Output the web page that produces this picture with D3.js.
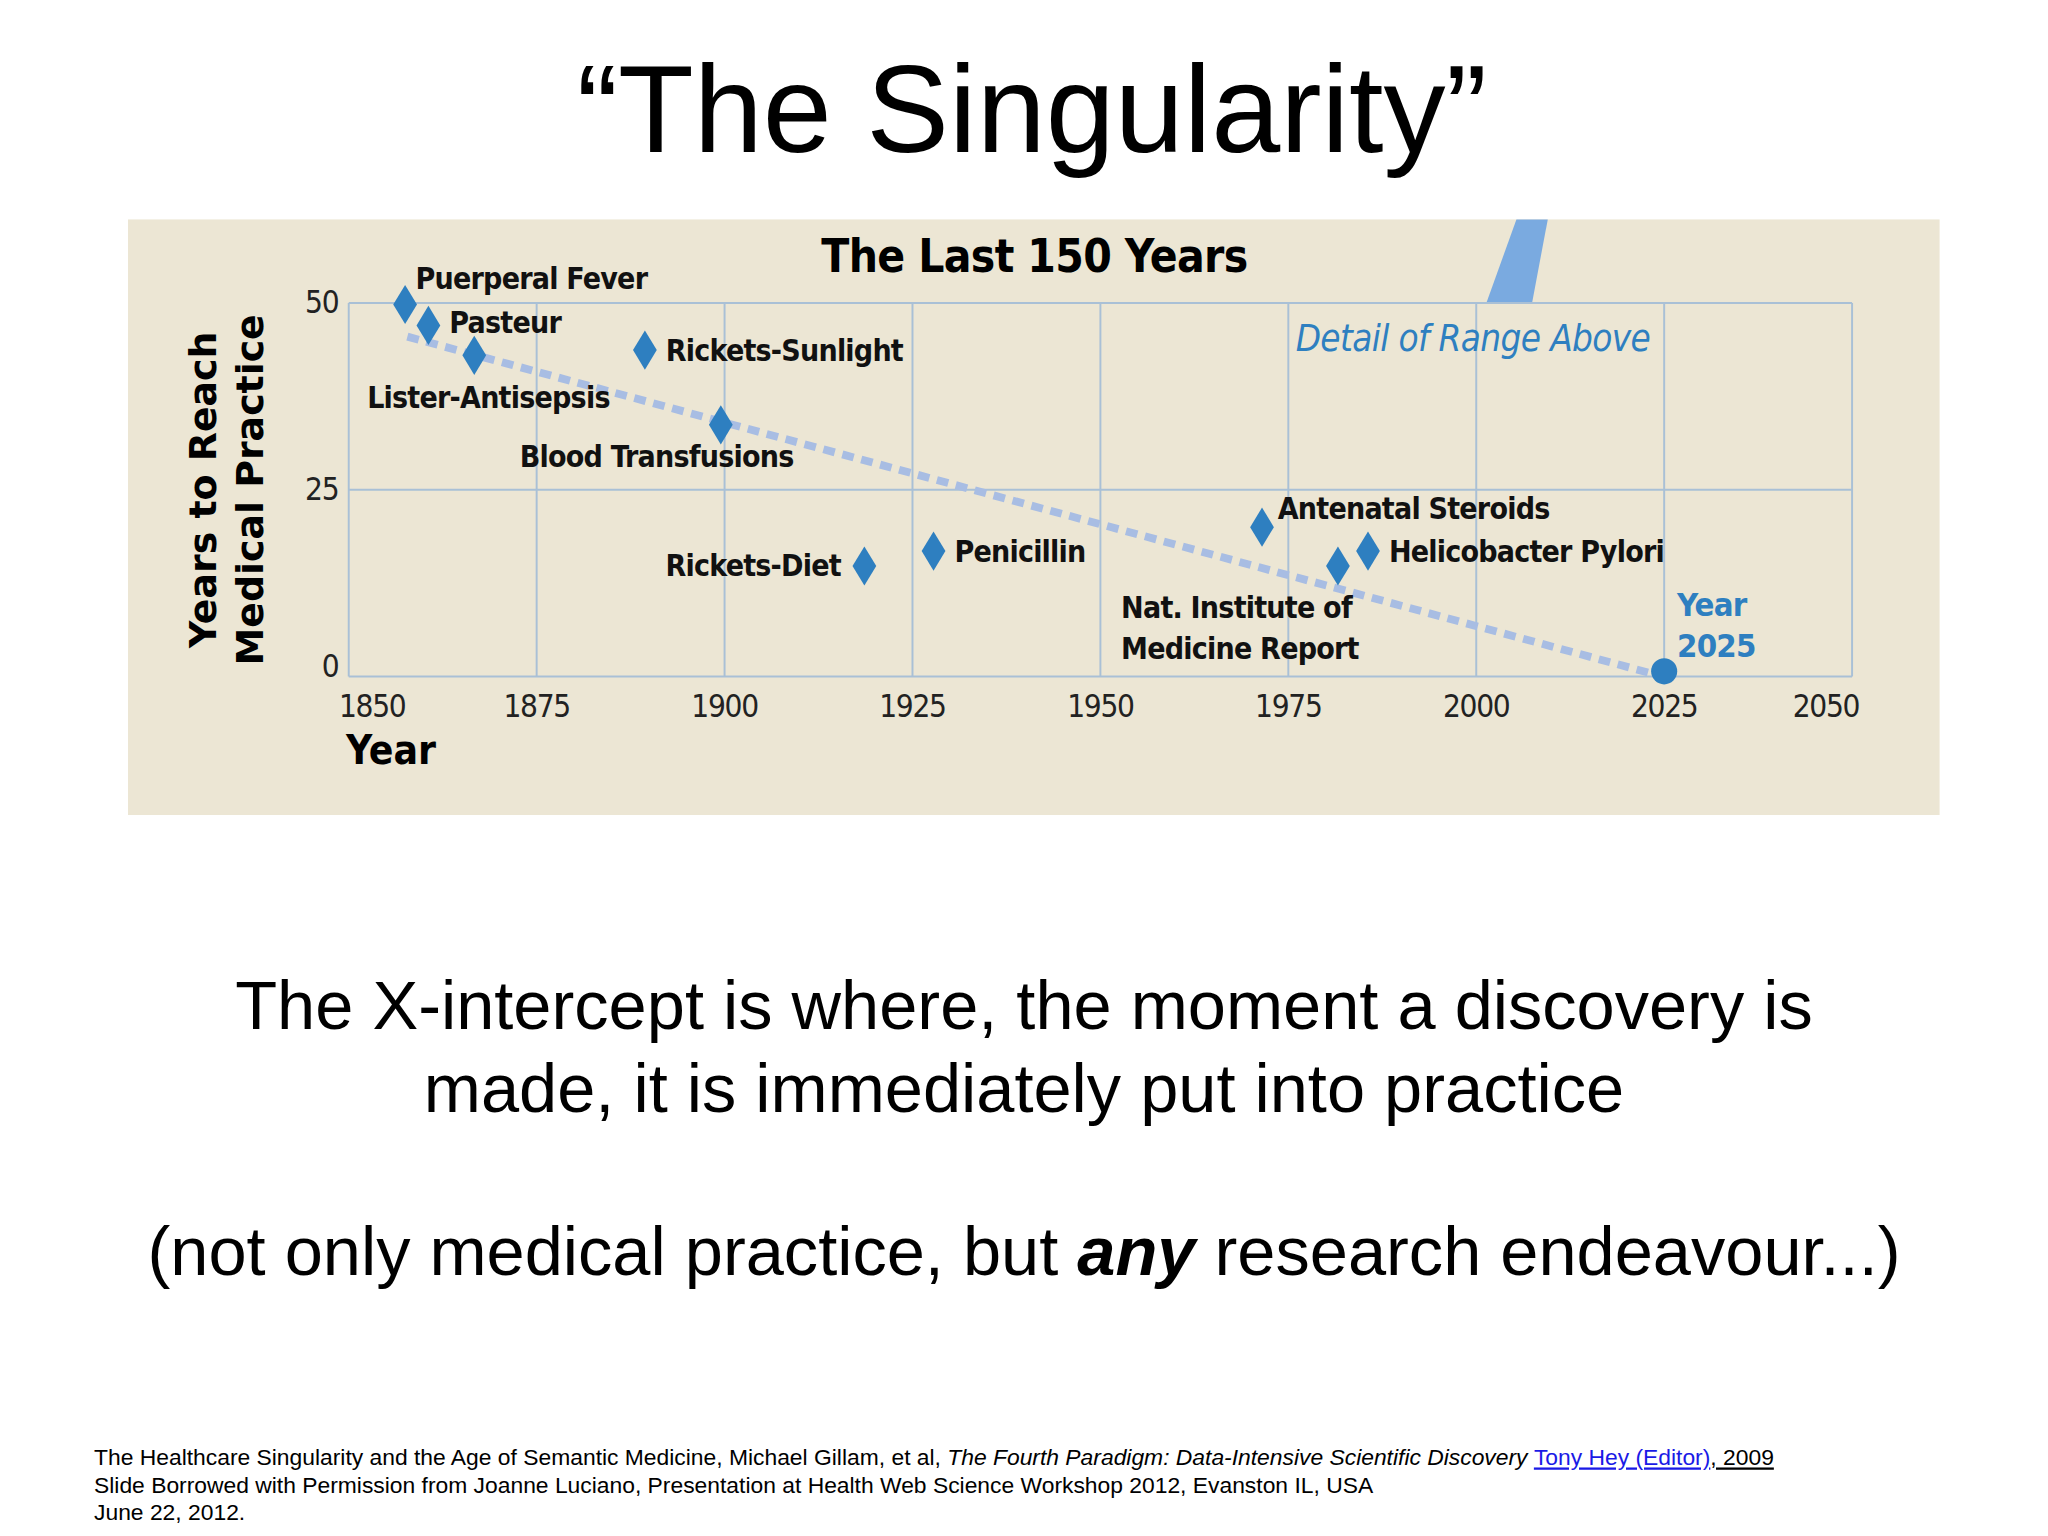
<!DOCTYPE html>
<html><head><meta charset="utf-8">
<script src="https://cdn.jsdelivr.net/npm/d3@7"></script>
<style>body{margin:0;background:#fff}</style>
</head><body>
<svg id="chart" width="2048" height="1536" viewBox="0 0 1568 1176"></svg>
<script>
var names = ["Puerperal Fever","Pasteur","Lister-Antisepsis","Rickets-Sunlight","Blood Transfusions","Rickets-Diet","Penicillin","Antenatal Steroids","Nat. Institute of|Medicine Report","Helicobacter Pylori"];
var years = [1857.5,1860.6,1866.7,1889.4,1899.5,1918.6,1927.8,1971.5,1981.6,1985.6];
var delays = [49.8,47.0,43.0,43.7,33.7,14.8,16.8,20.0,14.8,16.8];
// label offsets (dx, dy, anchor)
var labelPos = [[8,-12,"start"],[16,6,"start"],[-82,40,"start"],[16,8,"start"],[-154,32,"start"],[-18,8,"end"],[16,8,"start"],[12,-6,"start"],[-166,40,"start"],[16,8,"start"]];
var trendYears = [1857.8,2023];
var trendValues = [45.5,0.5];
var xTicks = [1850,1875,1900,1925,1950,1975,2000,2025,2050];
var yTicks = [0,25,50];

var svg = d3.select("#chart");
var blue = "#2e7fc0";
var cond = "'Liberation Sans Narrow','DejaVu Sans Condensed',sans-serif";

svg.append("text").attr("x",790).attr("y",116).attr("text-anchor","middle")
    .style("font-family","'Liberation Sans',Arial,sans-serif").style("font-size","95px")
    .text("\u201cThe Singularity\u201d");

svg.append("rect").attr("x",98).attr("y",168).attr("width",1387).attr("height",456).attr("fill","#ece6d4");

var x = d3.scaleLinear().domain([1850,2050]).range([267,1418]);
var y = d3.scaleLinear().domain([0,50]).range([518,232]);

// blue wedge to detail above
svg.append("path").attr("d","M1161,168L1185,168L1173,232L1138,232Z").attr("fill","#7aaae0");

svg.append("text").attr("x",792).attr("y",208).attr("text-anchor","middle")
    .style("font-family",cond).style("font-weight","bold").style("font-size","35px").style("letter-spacing","-0.5px").text("The Last 150 Years");

var grid = svg.append("g").attr("stroke","#a9c0d6").attr("stroke-width",1.5);
xTicks.forEach(function(t){ grid.append("line").attr("x1",x(t)).attr("x2",x(t)).attr("y1",y(50)).attr("y2",y(0)); });
yTicks.forEach(function(t){ grid.append("line").attr("x1",x(1850)).attr("x2",x(2050)).attr("y1",y(t)).attr("y2",y(t)); });

var tickFont = function(s){ return s.style("font-family",cond).style("font-size","24px").style("letter-spacing","-1px").attr("fill","#222"); };
xTicks.forEach(function(t,i){
    var tx = i==0 ? x(t)+18 : (i==xTicks.length-1 ? x(t)-20 : x(t));
    svg.append("text").attr("x",tx).attr("y",549).attr("text-anchor","middle").call(tickFont).text(t);
});
yTicks.forEach(function(t){
    svg.append("text").attr("x",259).attr("y",y(t)+(t==0?0:8)).attr("text-anchor","end").call(tickFont).text(t);
});

svg.append("text").attr("x",265).attr("y",585).style("font-family",cond).style("font-weight","bold").style("font-size","31px").text("Year");
var yt = svg.append("text").attr("transform","translate(165,375) rotate(-90)").attr("text-anchor","middle")
    .style("font-family","'DejaVu Sans',sans-serif").style("font-weight","bold").style("font-size","29px");
yt.append("tspan").attr("x",0).attr("dy",0).text("Years to Reach");
yt.append("tspan").attr("x",0).attr("dy",36).text("Medical Practice");

svg.append("line").attr("x1",x(trendYears[0])).attr("y1",y(trendValues[0]))
    .attr("x2",x(trendYears[1])).attr("y2",y(trendValues[1]))
    .attr("stroke","#a8bde3").attr("stroke-width",6).attr("stroke-dasharray","9,6");

svg.append("text").attr("x",992).attr("y",269).style("font-family",cond).style("font-style","italic")
    .style("font-size","28px").style("letter-spacing","-0.5px").attr("fill",blue).text("Detail of Range Above");

var pts = svg.append("g");
years.forEach(function(yr,i){
    var cx = x(yr), cy = y(delays[i]);
    pts.append("path").attr("d",d3.symbol().type(d3.symbolDiamond).size(260)())
        .attr("transform","translate("+cx+","+cy+") scale(1.05,1.0)").attr("fill",blue);
    var lp = labelPos[i];
    var t = pts.append("text").attr("x",cx+lp[0]).attr("y",cy+lp[1]).attr("text-anchor",lp[2])
        .style("font-family",cond).style("font-weight","bold").style("font-size","23px").style("letter-spacing","-0.6px").attr("fill","#111");
    names[i].split("|").forEach(function(s,j){
        t.append("tspan").attr("x",cx+lp[0]).attr("dy",j?31:0).text(s);
    });
});

svg.append("circle").attr("cx",x(2025)).attr("cy",y(0)-4).attr("r",10).attr("fill",blue);
var yr25 = svg.append("text").style("font-family",cond).style("font-weight","bold").style("font-size","25px").style("letter-spacing","-0.6px").attr("fill",blue);
yr25.append("tspan").attr("x",1284).attr("y",472).text("Year");
yr25.append("tspan").attr("x",1284).attr("y",503).text("2025");

var arial = "'Liberation Sans',Arial,sans-serif";
[["The X-intercept is where, the moment a discovery is",788],["made, it is immediately put into practice",851]].forEach(function(d){
    svg.append("text").attr("x",784).attr("y",d[1]).attr("text-anchor","middle").style("font-family",arial).style("font-size","52.5px").text(d[0]);
});
var l3 = svg.append("text").attr("x",784).attr("y",976).attr("text-anchor","middle").style("font-family",arial).style("font-size","52.5px");
l3.append("tspan").text("(not only medical practice, but ");
l3.append("tspan").style("font-weight","bold").style("font-style","italic").text("any");
l3.append("tspan").text(" research endeavour...)");

var fn = svg.append("g").style("font-family",arial).style("font-size","17.5px");
var f1 = fn.append("text").attr("x",72).attr("y",1122);
f1.append("tspan").text("The Healthcare Singularity and the Age of Semantic Medicine, Michael Gillam, et al, ");
f1.append("tspan").style("font-style","italic").text("The Fourth Paradigm: Data-Intensive Scientific Discovery");
f1.append("tspan").text("  ");
f1.append("tspan").attr("fill","#1a1ae6").style("text-decoration","underline").text("Tony Hey (Editor)");
f1.append("tspan").style("text-decoration","underline").text(", 2009");
fn.append("text").attr("x",72).attr("y",1143).text("Slide Borrowed with Permission from Joanne Luciano, Presentation at Health Web Science Workshop 2012, Evanston IL, USA");
fn.append("text").attr("x",72).attr("y",1164).text("June 22, 2012.");
</script>
</body></html>
